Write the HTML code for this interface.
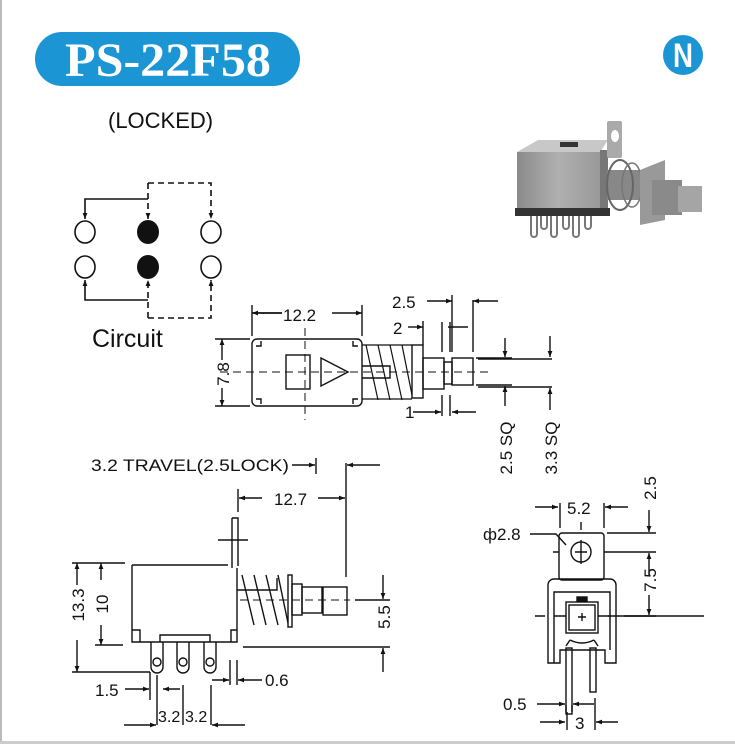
<!DOCTYPE html>
<html><head><meta charset="utf-8"><style>
html,body{margin:0;padding:0;background:#fff}
svg{display:block}
text{font-family:"Liberation Sans",sans-serif;fill:#111}
</style></head><body>
<svg width="735" height="744" viewBox="0 0 735 744" xmlns="http://www.w3.org/2000/svg">
<defs>
<marker id="a" viewBox="0 0 10 10" refX="10" refY="5" markerWidth="8" markerHeight="6" orient="auto-start-reverse" markerUnits="userSpaceOnUse"><path d="M0,1 L10,5 L0,9 z" fill="#111"/></marker>
<linearGradient id="g1" x1="0" x2="1"><stop offset="0" stop-color="#8a8a8a"/><stop offset="0.5" stop-color="#b0b0b0"/><stop offset="1" stop-color="#999"/></linearGradient>
</defs>
<rect x="0" y="0" width="2" height="744" fill="#bbb"/>
<rect x="0" y="741" width="735" height="3" fill="#ccc"/>
<!-- title -->
<rect x="35" y="32" width="265" height="54" rx="27" fill="#1b95d3"/>
<text x="168" y="76" text-anchor="middle" textLength="206" lengthAdjust="spacingAndGlyphs" style="font-family:'Liberation Serif',serif;font-weight:bold;font-size:48px;fill:#fff">PS-22F58</text>
<circle cx="683" cy="55" r="20" fill="#1b95d3"/>
<text x="683" y="67" text-anchor="middle" textLength="20" lengthAdjust="spacingAndGlyphs" style="font-weight:bold;font-size:34px;fill:#fff">N</text>
<text x="108" y="128" style="font-size:22px">(LOCKED)</text>
<!-- circuit -->
<g stroke="#111" stroke-width="1.6" fill="none">
<ellipse cx="85" cy="232" rx="10" ry="11"/><ellipse cx="211" cy="232" rx="10" ry="11"/>
<ellipse cx="85" cy="267" rx="10" ry="11"/><ellipse cx="211" cy="267" rx="10" ry="11"/>
<path d="M148,199 H85 V219" marker-end="url(#a)"/>
<path d="M148,183 H211 V219" stroke-dasharray="6,4" marker-end="url(#a)"/>
<path d="M148,183 V219" stroke-dasharray="6,4" marker-end="url(#a)"/>
<path d="M148,300 H85 V280" marker-end="url(#a)"/>
<path d="M148,318 H211 V280" stroke-dasharray="6,4" marker-end="url(#a)"/>
<path d="M148,318 V280" stroke-dasharray="6,4" marker-end="url(#a)"/>
</g>
<ellipse cx="148" cy="232" rx="11" ry="12" fill="#111"/>
<ellipse cx="148" cy="267" rx="11" ry="12" fill="#111"/>
<text x="92" y="347" style="font-size:25px">Circuit</text>
<!-- photo -->
<g>
<polygon points="517,152 538,140 608,140 600,152" fill="#c8c8c8"/>
<rect x="560" y="142" width="18" height="5" fill="#333"/>
<rect x="517" y="152" width="83" height="60" fill="url(#g1)"/>
<rect x="600" y="150" width="8" height="63" fill="#777"/>
<rect x="607" y="121" width="15" height="37" fill="#aaa" rx="2"/>
<ellipse cx="615" cy="136" rx="4" ry="6" fill="#fff"/>
<rect x="607" y="170" width="35" height="30" fill="#888"/>
<ellipse cx="620" cy="185" rx="13" ry="25" fill="none" stroke="#666" stroke-width="2"/>
<ellipse cx="632" cy="185" rx="10" ry="22" fill="none" stroke="#777" stroke-width="1.5"/>
<polygon points="640,170 665,160 665,220 640,225" fill="#999"/>
<rect x="652" y="180" width="30" height="35" fill="#8a8a8a"/>
<rect x="678" y="186" width="24" height="26" fill="#a5a5a5"/>
<rect x="515" y="208" width="95" height="8" fill="#333"/>
<g stroke="#777" stroke-width="2" fill="none">
<path d="M531,216 v18 a3,3 0 0 0 6,0 v-18"/><path d="M541,216 v10 a3,3 0 0 0 6,0 v-10"/>
<path d="M551,216 v18 a3,3 0 0 0 6,0 v-18"/><path d="M563,216 v10 a3,3 0 0 0 6,0 v-10"/>
<path d="M573,216 v18 a3,3 0 0 0 6,0 v-18"/><path d="M585,216 v10 a3,3 0 0 0 6,0 v-10"/>
</g>
</g>
<!-- top view -->
<g stroke="#111" stroke-width="1.4" fill="none">
<rect x="252" y="339" width="110" height="67" rx="5"/>
<path d="M256,346 h5 v-5 M358,346 h-5 v-5 M256,399 h5 v5 M358,399 h-5 v5"/>
<rect x="286" y="355" width="24" height="34"/>
<path d="M321,358 L348,372 L321,386 Z"/>
<path d="M362,366 h28 v12 h-28"/>
<path d="M366,345 l12,55 M378,345 l12,55 M390,345 l12,55 M402,345 l10,50 M362,345 h50 M362,399 h50" stroke-width="1.2"/>
<rect x="412" y="345" width="11" height="53"/>
<rect x="423" y="358" width="21" height="31"/>
<rect x="444" y="362" width="8" height="22"/>
<rect x="452" y="358" width="21" height="27"/>
<path d="M220,372 H490 M305,328 V420" stroke-dasharray="8,5" stroke-width="1"/>
<path d="M252,305 V336 M362,305 V336"/>
<path d="M252,313 H282 M332,313 H362" marker-end="url(#a)"/><path d="M282,313 H252" marker-end="url(#a)"/>
<path d="M215,339 H250 M215,406 H250"/>
<path d="M222,360 V339" marker-end="url(#a)"/><path d="M222,388 V406" marker-end="url(#a)"/>
<path d="M427,301 H452" marker-end="url(#a)"/><path d="M498,301 H473" marker-end="url(#a)"/>
<path d="M452,295 V352 M473,300 V352"/>
<path d="M408,327 H423" marker-end="url(#a)"/><path d="M423,321 V345"/>
<path d="M442,322 V352 M450,322 V352 M448,327 H468"/>
<path d="M413,412 H441" marker-end="url(#a)"/><path d="M476,412 H452" marker-end="url(#a)"/>
<path d="M442,395 V416 M450,395 V416"/>
<path d="M476,358 H512 M476,385 H512 M478,359 H552 M478,387 H552"/>
<path d="M505,338 V357" marker-end="url(#a)"/><path d="M505,406 V386" marker-end="url(#a)"/>
<path d="M550,336 V357" marker-end="url(#a)"/><path d="M550,410 V388" marker-end="url(#a)"/>
</g>
<text x="283" y="321" style="font-size:17px">12.2</text>
<text x="392" y="308" style="font-size:17px">2.5</text>
<text x="393" y="334" style="font-size:17px">2</text>
<text x="405" y="418" style="font-size:17px">1</text>
<text transform="translate(229,374) rotate(-90)" text-anchor="middle" style="font-size:17px">7.8</text>
<text transform="translate(512,448) rotate(-90)" text-anchor="middle" style="font-size:17px">2.5 SQ</text>
<text transform="translate(557,448) rotate(-90)" text-anchor="middle" style="font-size:17px">3.3 SQ</text>
<!-- side view -->
<text x="91" y="471" textLength="198" lengthAdjust="spacingAndGlyphs" style="font-size:17px">3.2 TRAVEL(2.5LOCK)</text>
<g stroke="#111" stroke-width="1.4" fill="none">
<path d="M292,465 H315" marker-end="url(#a)"/><path d="M316,458 V474"/>
<path d="M380,465 H347" marker-end="url(#a)"/><path d="M346,463 V577"/>
<path d="M238,489 V512"/>
<path d="M262,498 H239" marker-end="url(#a)"/><path d="M318,498 H345" marker-end="url(#a)"/>
<path d="M132,565 V642 H237 V568 M132,565 H228"/>
<path d="M232,518 h6 v48 M232,518 v50 M218,540 h30"/>
<path d="M132,630 h8 v12 M237,630 h-6 v12 M160,642 v-7 h50 v7"/>
<path d="M237,590 h40 v-12 M242,575 l12,50 M254,575 l12,50 M266,575 l12,50 M278,575 l10,48"/>
<rect x="288" y="575" width="4" height="52"/>
<rect x="292" y="584" width="10" height="31"/>
<rect x="302" y="587" width="20" height="26"/>
<rect x="323" y="587" width="24" height="28"/>
<path d="M240,600 H350" stroke-dasharray="8,5" stroke-width="1"/>
<path d="M151,642 v25 a6,6 0 0 0 12,0 v-25 M177,642 v25 a6,6 0 0 0 12,0 v-25 M204,642 v25 a6,6 0 0 0 12,0 v-25"/>
<circle cx="157" cy="662" r="4"/><circle cx="183" cy="662" r="4"/><circle cx="210" cy="662" r="4"/>
<path d="M72,563 H125 M95,645 H123 M72,672 H150"/>
<path d="M77,585 V563" marker-end="url(#a)"/><path d="M77,640 V672" marker-end="url(#a)"/>
<path d="M101,580 V563" marker-end="url(#a)"/><path d="M101,625 V645" marker-end="url(#a)"/>
<path d="M355,600 H390 M243,647 H390"/>
<path d="M383,575 V599" marker-end="url(#a)"/><path d="M383,672 V648" marker-end="url(#a)"/>
<path d="M125,689 H149" marker-end="url(#a)"/><path d="M150,672 V700 M157,675 V725 M183,685 V725 M211,685 V725"/>
<path d="M180,689 H163" marker-end="url(#a)"/>
<path d="M212,680 H229" marker-end="url(#a)"/><path d="M262,680 H238" marker-end="url(#a)"/>
<path d="M230,660 V685 M237,660 V685"/>
<path d="M124,725 H156" marker-end="url(#a)"/><path d="M245,725 H212" marker-end="url(#a)"/>
</g>
<text x="274" y="505" style="font-size:17px">12.7</text>
<text x="95" y="696" style="font-size:17px">1.5</text>
<text x="265" y="686" style="font-size:17px">0.6</text>
<text x="158" y="722" style="font-size:16px">3.2</text><text x="185" y="722" style="font-size:16px">3.2</text>
<text transform="translate(84,605) rotate(-90)" text-anchor="middle" style="font-size:17px">13.3</text>
<text transform="translate(108,604) rotate(-90)" text-anchor="middle" style="font-size:17px">10</text>
<text transform="translate(390,617) rotate(-90)" text-anchor="middle" style="font-size:17px">5.5</text>
<!-- front view -->
<g stroke="#111" stroke-width="1.4" fill="none">
<rect x="559" y="533" width="45" height="47" rx="3"/>
<circle cx="581" cy="552" r="10"/>
<path d="M575,552 h12 M581,540 v24 M553,552 h6 M604,552 h4 M581,522 v8"/>
<path d="M548,663 V585 a6,6 0 0 1 6,-6 H610 a6,6 0 0 1 6,6 V663 H605 V650 H560 V663 Z"/>
<path d="M554,663 V592 H610 V650"/>
<rect x="566" y="602" width="32" height="31"/>
<rect x="569" y="605" width="26" height="25"/>
<rect x="577" y="597" width="10" height="4" fill="#111"/>
<path d="M578,617 h8 M582,613 v8 M535,616 h10 M554,616 h12 M598,616 h12 M624,616 h80"/>
<path d="M570,640 q12,6 24,0 M566,646 l4,-6 M598,646 l-4,-6"/>
<rect x="566" y="648" width="6" height="66"/><rect x="590" y="648" width="6" height="44"/>
<path d="M535,507 H558" marker-end="url(#a)"/><path d="M628,507 H605" marker-end="url(#a)"/>
<path d="M560,503 V528 M604,503 V528"/>
<path d="M530,534 H556 L566,545"/>
<path d="M607,533 H656 M608,552 H656 M608,616 H656"/>
<path d="M649,510 V532" marker-end="url(#a)"/><path d="M649,575 V553" marker-end="url(#a)"/>
<path d="M649,595 V615" marker-end="url(#a)"/>
<path d="M537,704 H565" marker-end="url(#a)"/><path d="M594,704 H573" marker-end="url(#a)"/>
<path d="M566,705 V712 M572,705 V712 M595,698 V730"/>
<path d="M540,722 H565" marker-end="url(#a)"/><path d="M618,722 H596" marker-end="url(#a)"/><path d="M567,712 V730"/>
</g>
<text x="567" y="514" style="font-size:17px">5.2</text>
<text x="483" y="540" style="font-size:17px">ф2.8</text>
<text x="503" y="710" style="font-size:17px">0.5</text>
<text x="575" y="729" style="font-size:17px">3</text>
<text transform="translate(656,488) rotate(-90)" text-anchor="middle" style="font-size:17px">2.5</text>
<text transform="translate(656,580) rotate(-90)" text-anchor="middle" style="font-size:17px">7.5</text>
</svg>
</body></html>
